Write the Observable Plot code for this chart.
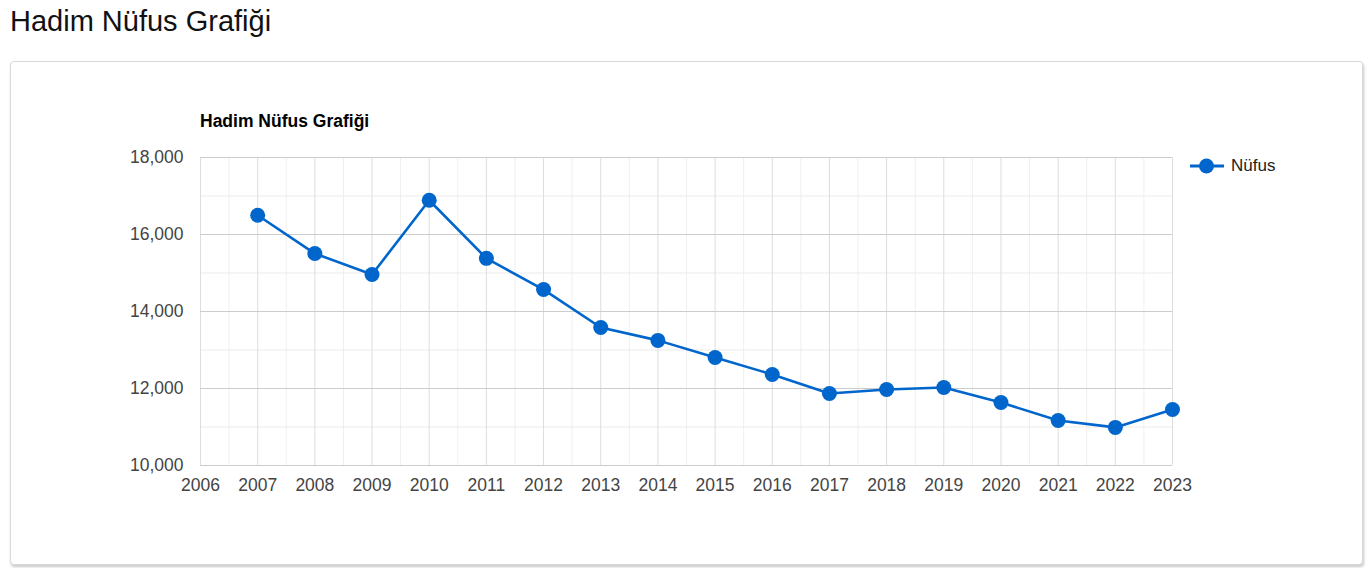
<!DOCTYPE html>
<html><head><meta charset="utf-8">
<script src="https://cdn.jsdelivr.net/npm/d3@7"></script>
<script src="https://cdn.jsdelivr.net/npm/@observablehq/plot@0.6"></script>
<style>
body{margin:0;background:#fff;font-family:Arial,"Liberation Sans",sans-serif;}
#title{position:absolute;left:10px;top:5px;font-size:29px;color:#111;white-space:nowrap;}
#card{position:absolute;left:10px;top:61px;width:1351px;height:502px;border:1px solid #d9d9d9;border-radius:4px;box-shadow:1px 2px 3px rgba(0,0,0,0.22);background:#fff;}
#ctitle{position:absolute;left:189px;top:49px;font-size:17.5px;font-weight:bold;color:#000;white-space:nowrap;}
#chart{position:absolute;left:0;top:0;}
#legend{position:absolute;left:1178px;top:94px;font-size:17px;color:#222;display:flex;align-items:center;white-space:nowrap;}
#legend svg{margin-right:6px;}
</style>
</head><body>
<div id="title">Hadim Nüfus Grafiği</div>
<div id="card">
  <div id="chart"></div>
  <div id="ctitle">Hadim Nüfus Grafiği</div>
  <div id="legend"><svg width="36" height="16"><line x1="1" x2="35" y1="8" y2="8" stroke="#0066cc" stroke-width="3"/><circle cx="17.5" cy="8" r="7.5" fill="#0066cc"/></svg><span>Nüfus</span></div>
</div>
<script>
const years = [2007,2008,2009,2010,2011,2012,2013,2014,2015,2016,2017,2018,2019,2020,2021,2022,2023];
const population = [16500,15505,14960,16890,15380,14570,13585,13250,12805,12365,11870,11975,12025,11635,11170,10990,11455];
const xTicks = [2006,2007,2008,2009,2010,2011,2012,2013,2014,2015,2016,2017,2018,2019,2020,2021,2022,2023];
const xMinor = [2006.5,2007.5,2008.5,2009.5,2010.5,2011.5,2012.5,2013.5,2014.5,2015.5,2016.5,2017.5,2018.5,2019.5,2020.5,2021.5,2022.5];
const yTicks = [10000,12000,14000,16000,18000];
const yMinor = [11000,13000,15000,17000];
const seriesName = "Nüfus";
const color = "#0066cc";

const data = years.map((y,i)=>({year:y, value:population[i], series:seriesName}));

const plot = Plot.plot({
  width: 1351, height: 502,
  marginLeft: 189, marginRight: 190, marginTop: 95, marginBottom: 99,
  style: {fontFamily: "Arial, 'Liberation Sans', sans-serif", fontSize: "17.5px", color: "#444", background: "transparent", overflow: "visible"},
  x: {domain: [2006, 2023]},
  y: {domain: [10000, 18000]},
  marks: [
    Plot.ruleX(xMinor, {stroke: "#efefef", strokeWidth: 1}),
    Plot.ruleY(yMinor, {stroke: "#ebebeb", strokeWidth: 1}),
    Plot.ruleX(xTicks, {stroke: "#dddddd", strokeWidth: 1}),
    Plot.ruleY(yTicks, {stroke: "#cccccc", strokeWidth: 1}),
    Plot.axisX({ticks: xTicks, tickFormat: d => String(d), tickSize: 0, tickPadding: 13.5, label: null, fill: "#444"}),
    Plot.axisY({ticks: yTicks, tickFormat: d3.format(","), tickSize: 0, tickPadding: 17, label: null, fill: "#444"}),
    Plot.line(data, {x: "year", y: "value", stroke: color, strokeWidth: 2.6}),
    Plot.dot(data, {x: "year", y: "value", r: 7.5, fill: color, stroke: "none"})
  ]
});
document.getElementById("chart").appendChild(plot);
</script>
</body></html>
